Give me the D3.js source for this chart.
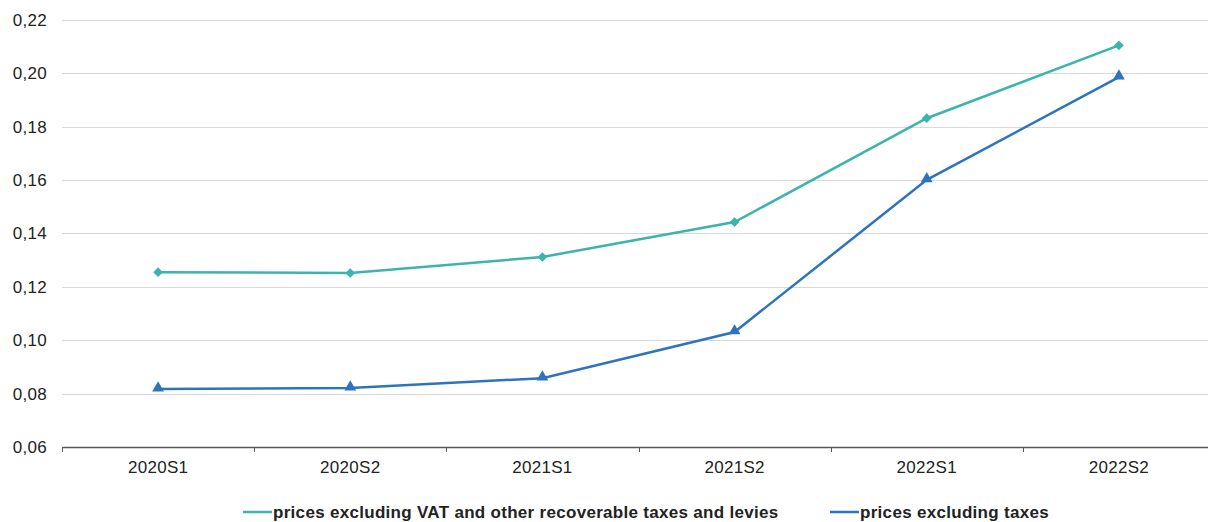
<!DOCTYPE html>
<html>
<head>
<meta charset="utf-8">
<script src="https://cdn.jsdelivr.net/npm/d3@7"></script>
<style>
  html, body { margin: 0; padding: 0; background: #fff; }
  svg { display: block; font-family: "Liberation Sans", Arial, sans-serif; }
  svg text { letter-spacing: 0.3px; }
</style>
</head>
<body>
<svg id="chart" width="1208" height="522"></svg>
<script>
// Half-year periods on the x axis
const periods = ["2020S1", "2020S2", "2021S1", "2021S2", "2022S1", "2022S2"];
// Prices excluding VAT and other recoverable taxes and levies
const exclVat = [0.1255, 0.1252, 0.1312, 0.1443, 0.1832, 0.2105];
// Prices excluding taxes
const exclTaxes = [0.0817, 0.0821, 0.0858, 0.1031, 0.1601, 0.1986];
// Y axis ticks
const yTicks = [0.06, 0.08, 0.10, 0.12, 0.14, 0.16, 0.18, 0.20, 0.22];
const seriesNames = ["prices excluding VAT and other recoverable taxes and levies", "prices excluding taxes"];

const svg = d3.select("#chart");
const plotLeft = 62, plotRight = 1215, plotTop = 20, plotBottom = 447;
const fontSize = 17;

const x = d3.scaleBand().domain(periods).range([plotLeft, plotRight]);
const y = d3.scaleLinear().domain([0.06, 0.22]).range([plotBottom, plotTop]);
const fmt = v => d3.format(".2f")(v).replace(".", ",");

// Gridlines
svg.append("g").selectAll("line").data(yTicks.slice(1)).join("line")
  .attr("x1", plotLeft).attr("x2", plotRight)
  .attr("y1", d => Math.round(y(d)) + 0.5).attr("y2", d => Math.round(y(d)) + 0.5)
  .attr("stroke", "#d9d9d9").attr("stroke-width", 1);

// Y labels
svg.append("g").selectAll("text").data(yTicks).join("text")
  .attr("x", 47).attr("y", d => y(d)).attr("dy", "0.35em")
  .attr("text-anchor", "end").attr("font-size", fontSize).attr("fill", "#222")
  .text(fmt);

// X axis
const xAxis = svg.append("g").attr("transform", `translate(0,${plotBottom})`)
  .call(d3.axisBottom(x).tickSize(0).tickPadding(14));
xAxis.select(".domain").attr("stroke", "#595959").attr("stroke-width", 1.5);
xAxis.selectAll("text").attr("font-size", fontSize).attr("fill", "#222")
  .attr("font-family", "Liberation Sans, Arial, sans-serif");
// Category boundary ticks
const bounds = periods.map(p => x(p)).concat([plotRight]);
svg.append("g").selectAll("line").data(bounds).join("line")
  .attr("x1", d => Math.round(d) + 0.5).attr("x2", d => Math.round(d) + 0.5)
  .attr("y1", plotBottom).attr("y2", plotBottom + 5)
  .attr("stroke", "#595959").attr("stroke-width", 1);

const cx = p => x(p) + x.bandwidth() / 2;
const line = d3.line().x((d, i) => cx(periods[i])).y(d => y(d));

const teal = "#3cb4ae", blue = "#2e73bd";
const diamond = d3.symbol().type(d3.symbolDiamond2).size(60);
const tri = d3.symbol().type(d3.symbolTriangle).size(60);

svg.append("path").datum(exclVat).attr("d", line)
  .attr("fill", "none").attr("stroke", teal).attr("stroke-width", 2.5);
svg.append("g").selectAll("path").data(exclVat).join("path")
  .attr("transform", (d, i) => `translate(${cx(periods[i])},${y(d)})`)
  .attr("d", diamond).attr("fill", teal);

svg.append("path").datum(exclTaxes).attr("d", line)
  .attr("fill", "none").attr("stroke", blue).attr("stroke-width", 2.5);
svg.append("g").selectAll("path").data(exclTaxes).join("path")
  .attr("transform", (d, i) => `translate(${cx(periods[i])},${y(d) - 1})`)
  .attr("d", tri).attr("fill", blue);

// Legend
const legend = [
  { x: 243, color: teal, sym: diamond, name: seriesNames[0] },
  { x: 830, color: blue, sym: tri, name: seriesNames[1] }
];
const lg = svg.append("g").selectAll("g").data(legend).join("g")
  .attr("transform", d => `translate(${d.x},512)`);
lg.append("line").attr("x1", 0).attr("x2", 29).attr("y1", 0).attr("y2", 0)
  .attr("stroke", d => d.color).attr("stroke-width", 2.5);
lg.append("path").attr("transform", "translate(14.5,0)").attr("d", d => d.sym).attr("fill", d => d.color);
lg.append("text").attr("x", 30).attr("y", 0).attr("dy", "0.35em")
  .attr("font-size", fontSize).attr("font-weight", "bold").attr("fill", "#222")
  .text(d => d.name);
</script>
</body>
</html>
